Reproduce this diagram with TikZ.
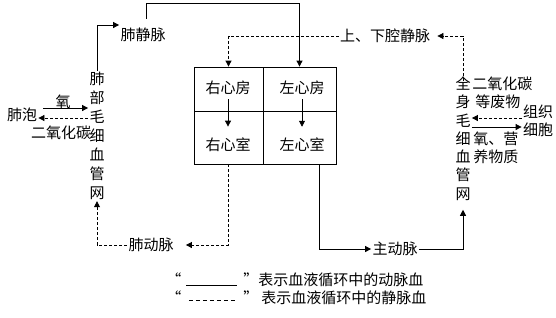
\documentclass[tikz,border=0pt]{standalone}
\usepackage{fontspec}
\setmainfont{Noto Sans CJK SC}
\usetikzlibrary{arrows.meta, positioning}

\begin{document}
\begin{tikzpicture}[x=1pt, y=-1pt, line width=0.8pt,
    >={Triangle[length=6pt, width=6pt]},
    every node/.style={inner sep=1pt, font=\fontsize{15}{19}\selectfont},
    cell/.style={draw, inner sep=0pt, line width=0.8pt},
    vtext/.style={align=center},
    artery/.style={->},
    vein/.style={->, dash pattern=on 3pt off 2pt}]

    \useasboundingbox (0,0) rectangle (556,317);

    % the heart
    \node[cell, minimum width=69pt, minimum height=44pt] (rabox) at (228.5,89) {};
    \node[cell, minimum width=73pt, minimum height=44pt] (labox) at (299.5,89) {};
    \node[cell, minimum width=69pt, minimum height=53pt] (rvbox) at (228.5,137.5) {};
    \node[cell, minimum width=73pt, minimum height=53pt] (lvbox) at (299.5,137.5) {};
    \node (ra) at (228,88) {右心房};
    \node (la) at (302,88) {左心房};
    \node (rv) at (228,145) {右心室};
    \node (lv) at (302,145) {左心室};

    % vessels and capillaries
    \node[vtext] (lungcap) at (97,136) {肺\\部\\毛\\细\\血\\管\\网};
    \node[vtext, font=\fontsize{15}{18.3}\selectfont] (bodycap) at (463,138.5) {全\\身\\毛\\细\\血\\管\\网};
    \node (pv) at (143,35) {肺静脉};
    \node (vc) at (385,36) {上、下腔静脉};
    \node (pa) at (151,245) {肺动脉};
    \node (ao) at (395,249) {主动脉};
    \coordinate (pvtop) at (146,3);

    % exchange at the lungs and the tissues
    \node (alveoli) at (22,115) {肺泡};
    \node (oxyl) at (63,102) {氧};
    \node (carbl) at (61,133) {二氧化碳};
    \node[align=left, font=\fontsize{15}{18.3}\selectfont, anchor=west] (carbr) at (471,93) {二氧化碳\\\hspace{3pt}等废物};
    \node[align=left, font=\fontsize{15}{18}\selectfont, anchor=west] (nutr) at (472,148) {氧、营\\养物质};
    \node[align=center, font=\fontsize{15}{18}\selectfont] (tissue) at (538,121) {组织\\细胞};

    % legend
    \node[anchor=west] (leg1) at (165,280) {“\hspace{5pt}\rule{51pt}{0.7pt}\hspace{6pt}”表示血液循环中的动脉血};
    \node[anchor=west] (leg2) at (165,298) {“\hspace{2pt}\leaders\hbox to 7pt{\hss\rule[3pt]{4pt}{0.6pt}\hss}\hskip 56pt\hspace{4pt}”\hspace{3pt}表示血液循环中的静脉血};

    % chambers
    \draw[artery] ([yshift=-3pt]ra.south) -- ([yshift=10pt]rv.north);
    \draw[artery] ([yshift=-3pt]la.south) -- ([yshift=10pt]lv.north);

    % pulmonary circulation
    \draw[vein, shorten >=11pt] (rvbox.south) |- (pa.east);
    \draw[vein] (pa.west) -| (lungcap.south);
    \draw[artery] (lungcap.north) |- ([yshift=10pt]pv.west);
    \draw[artery, shorten <=8pt] (pvtop |- pv.north) -- (pvtop) -| (labox.north);

    % systemic circulation
    \draw[artery] ([xshift=20pt]lvbox.south) |- (ao.west);
    \draw[artery, shorten >=8pt] (ao.east) -| (bodycap.south);
    \draw[vein, shorten <=-6pt, shorten >=6pt] (bodycap.north) |- (vc.east);
    \draw[vein] (vc.west) -| (rabox.north);

    % gas exchange
    \draw[artery, shorten <=5pt] ([yshift=7pt]alveoli.east) -- ([yshift=7pt]alveoli.east -| lungcap.west);
    \draw[vein] ([yshift=-3pt]alveoli.east -| lungcap.west) -- ([yshift=-3pt]alveoli.east);
    \draw[vein] ([yshift=3pt]tissue.west) -- ([yshift=3pt]tissue.west -| bodycap.east);
    \draw[artery] ([yshift=-6pt]tissue.west -| bodycap.east) -- ([yshift=-6pt]tissue.west);
\end{tikzpicture}
\end{document}
